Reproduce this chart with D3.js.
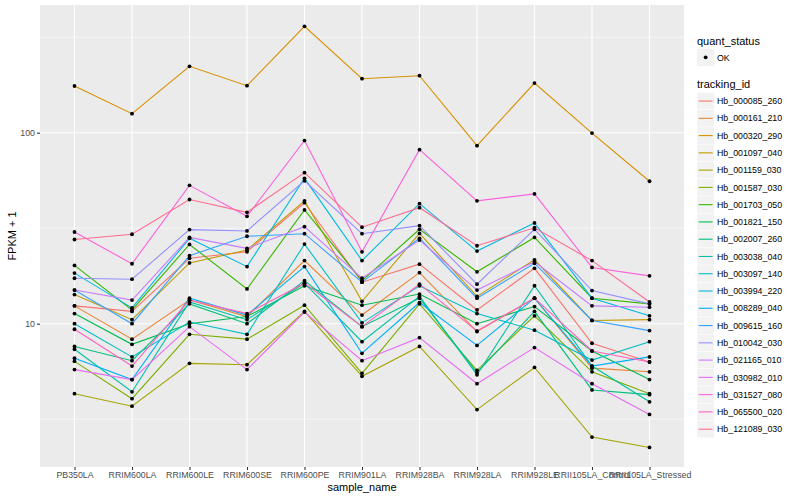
<!DOCTYPE html>
<html lang="en">
<head>
<meta charset="UTF-8">
<title>FPKM by sample</title>
<script src="https://d3js.org/d3.v7.min.js"></script>
<style>
  body { margin: 0; background: #fff; }
  text { font-family: "Liberation Sans", Arial, Helvetica, sans-serif; }
</style>
</head>
<body>
<div id="chart"></div>
<script>
// samples on the x axis
var samples = ["PB350LA", "RRIM600LA", "RRIM600LE", "RRIM600SE", "RRIM600PE", "RRIM901LA",
    "RRIM928BA", "RRIM928LA", "RRIM928LE", "RRII105LA_Control", "RRII105LA_Stressed"];

var trackingIds = ["Hb_000085_260", "Hb_000161_210", "Hb_000320_290", "Hb_001097_040", "Hb_001159_030",
    "Hb_001587_030", "Hb_001703_050", "Hb_001821_150", "Hb_002007_260", "Hb_003038_040",
    "Hb_003097_140", "Hb_003994_220", "Hb_008289_040", "Hb_009615_160", "Hb_010042_030",
    "Hb_021165_010", "Hb_030982_010", "Hb_031527_080", "Hb_065500_020", "Hb_121089_030"];

var colors = ["#F8766D", "#EA8331", "#D89000", "#C09B00", "#A3A500", "#7CAE00", "#39B600", "#00BB4E",
    "#00BF7D", "#00C1A3", "#00BFC4", "#00BAE0", "#00B0F6", "#35A2FF", "#9590FF", "#C77CFF",
    "#E76BF3", "#FA62DB", "#FF62BC", "#FF6C91"];

// FPKM + 1, one value per sample
var Hb_000085_260 = [12.4, 11.6, 22, 23.8, 43, 16.5, 20.5, 11.8, 19.5, 7.9, 6.3];
var Hb_000161_210 = [12.4, 8.3, 13.3, 10.9, 21.4, 11.1, 18.5, 9.1, 13.6, 5.85, 5.6];
var Hb_000320_290 = [175.6, 125.8, 222.7, 176.2, 360.6, 191.8, 198.8, 85.5, 182, 99.6, 55.7];
var Hb_001097_040 = [14.2, 10.5, 20.8, 24.3, 44, 13.1, 29.7, 13.9, 21.6, 10.4, 10.5];
var Hb_001159_030 = [4.3, 3.7, 6.2, 6.1, 11.6, 5.3, 7.6, 3.55, 5.9, 2.55, 2.25];
var Hb_001587_030 = [6.35, 4.05, 8.8, 8.3, 12.5, 5.5, 12.7, 5.7, 11, 5.6, 4.3];
var Hb_001703_050 = [20.2, 11.8, 26, 15.2, 39.4, 16.8, 31.2, 18.7, 28.3, 13.6, 12.7];
var Hb_001821_150 = [11.3, 7.8, 10, 10.9, 15.8, 12.5, 14.3, 10, 12.3, 7.2, 5.1];
var Hb_002007_260 = [7.6, 6.4, 12.7, 10, 16.8, 9.65, 13.6, 5.55, 11.6, 4.5, 4.25];
var Hb_003038_040 = [7.35, 4.4, 13, 10.5, 16.3, 8.05, 13.9, 5.4, 15.8, 6, 3.9];
var Hb_003097_140 = [10, 6.7, 10.2, 8.8, 26.1, 10.1, 15.8, 11.3, 9.25, 6.45, 8.05];
var Hb_003994_220 = [18.4, 12.1, 28, 19.9, 57.7, 21.4, 42.5, 24, 33.7, 13.6, 11];
var Hb_008289_040 = [6.6, 5.1, 13.6, 11.1, 19.9, 7, 12.9, 7.7, 13.6, 6, 6.7];
var Hb_009615_160 = [15, 10, 22.7, 28.7, 29.6, 16.5, 28, 13.6, 20.7, 10.4, 9.2];
var Hb_010042_030 = [17.3, 17.1, 31.1, 30.6, 56, 29.6, 32.6, 16.1, 31.2, 14.9, 12.7];
var Hb_021165_010 = [15, 13.3, 28.3, 24.8, 32.2, 17.3, 27.4, 15, 21.1, 12.4, 12.2];
var Hb_030982_010 = [5.75, 5.1, 9.65, 5.75, 11.5, 6.4, 8.45, 4.85, 7.5, 4.85, 3.35];
var Hb_031527_080 = [30.2, 20.6, 53, 36.5, 91, 23.8, 81.5, 44, 47.8, 19.7, 17.8];
var Hb_065500_020 = [9.35, 6, 13.3, 11.3, 16.3, 9.65, 16.1, 9.15, 13.6, 7.2, 6.3];
var Hb_121089_030 = [27.6, 29.4, 44.7, 38.3, 61.8, 32, 40.5, 25.6, 31.8, 21.4, 13];

var seriesValues = [Hb_000085_260, Hb_000161_210, Hb_000320_290, Hb_001097_040, Hb_001159_030,
    Hb_001587_030, Hb_001703_050, Hb_001821_150, Hb_002007_260, Hb_003038_040,
    Hb_003097_140, Hb_003994_220, Hb_008289_040, Hb_009615_160, Hb_010042_030,
    Hb_021165_010, Hb_030982_010, Hb_031527_080, Hb_065500_020, Hb_121089_030];

var yTicks = [10, 100];
var yMinor = [3.1623, 31.623, 316.23];

var series = trackingIds.map(function (id, i) {
    return {
        id: id, color: colors[i],
        values: seriesValues[i].map(function (v, j) { return {sample: samples[j], value: v}; })
    };
});

var width = 800, height = 500;
var panel = {left: 40, right: 684, top: 5, bottom: 467};

var svg = d3.select("#chart").append("svg")
    .attr("width", width)
    .attr("height", height);

var x = d3.scalePoint()
    .domain(samples)
    .range([panel.left, panel.right])
    .padding(0.6);

var y = d3.scaleLog()
    .domain([1.777, 466.3])
    .range([panel.bottom, panel.top]);

// panel background
svg.append("rect")
    .attr("x", panel.left).attr("y", panel.top)
    .attr("width", panel.right - panel.left)
    .attr("height", panel.bottom - panel.top)
    .attr("fill", "#EBEBEB");

// grid
svg.append("g").selectAll("line")
    .data(yMinor)
    .enter().append("line")
    .attr("x1", panel.left).attr("x2", panel.right)
    .attr("y1", function (d) { return y(d); })
    .attr("y2", function (d) { return y(d); })
    .attr("stroke", "#fff").attr("stroke-width", 0.55);

svg.append("g").selectAll("line")
    .data(yTicks)
    .enter().append("line")
    .attr("x1", panel.left).attr("x2", panel.right)
    .attr("y1", function (d) { return y(d); })
    .attr("y2", function (d) { return y(d); })
    .attr("stroke", "#fff").attr("stroke-width", 1.1);

svg.append("g").selectAll("line")
    .data(samples)
    .enter().append("line")
    .attr("y1", panel.top).attr("y2", panel.bottom)
    .attr("x1", function (d) { return x(d); })
    .attr("x2", function (d) { return x(d); })
    .attr("stroke", "#fff").attr("stroke-width", 1.1);

// lines
var line = d3.line()
    .x(function (d) { return x(d.sample); })
    .y(function (d) { return y(d.value); });

svg.append("g").selectAll("path")
    .data(series)
    .enter().append("path")
    .attr("d", function (d) { return line(d.values); })
    .attr("fill", "none")
    .attr("stroke", function (d) { return d.color; })
    .attr("stroke-width", 1.1);

// points
var pts = [];
series.forEach(function (s) { s.values.forEach(function (v) { pts.push(v); }); });
svg.append("g").selectAll("circle")
    .data(pts)
    .enter().append("circle")
    .attr("cx", function (d) { return x(d.sample); })
    .attr("cy", function (d) { return y(d.value); })
    .attr("r", 1.9)
    .attr("fill", "#000");

// axes
var xAxis = svg.append("g")
    .attr("transform", "translate(0," + panel.bottom + ")")
    .call(d3.axisBottom(x).tickSize(3).tickPadding(2));
var yAxis = svg.append("g")
    .attr("transform", "translate(" + panel.left + ",0)")
    .call(d3.axisLeft(y).tickValues(yTicks).tickFormat(d3.format("d")).tickSize(3).tickPadding(2));

[xAxis, yAxis].forEach(function (a) {
    a.select(".domain").remove();
    a.selectAll(".tick line").attr("stroke", "#333").attr("stroke-width", 1.1);
    a.selectAll(".tick text")
        .attr("fill", "#4D4D4D")
        .style("font-size", "8.8px")
        .style("font-family", "'Liberation Sans', Arial, sans-serif");
});

svg.append("text")
    .attr("x", (panel.left + panel.right) / 2)
    .attr("y", 491)
    .attr("text-anchor", "middle")
    .style("font-size", "11px")
    .text("sample_name");

svg.append("text")
    .attr("transform", "translate(16," + (panel.top + panel.bottom) / 2 + ") rotate(-90)")
    .attr("text-anchor", "middle")
    .style("font-size", "11px")
    .text("FPKM + 1");

// legends
var lg = svg.append("g").attr("transform", "translate(697,0)");

lg.append("text").attr("x", 0).attr("y", 44.5).style("font-size", "11px").text("quant_status");
lg.append("rect").attr("x", 0).attr("y", 48.7).attr("width", 17.3).attr("height", 17.3).attr("fill", "#F2F2F2");
lg.append("circle").attr("cx", 8.65).attr("cy", 57.3).attr("r", 1.9).attr("fill", "#000");
lg.append("text").attr("x", 20).attr("y", 60.5).style("font-size", "8.8px").text("OK");

lg.append("text").attr("x", 0).attr("y", 88).style("font-size", "11px").text("tracking_id");

var keys = lg.selectAll("g.key")
    .data(series)
    .enter().append("g")
    .attr("class", "key")
    .attr("transform", function (d, i) { return "translate(0," + (92.4 + i * 17.27) + ")"; });

keys.append("rect")
    .attr("width", 17.3).attr("height", 17.3)
    .attr("fill", "#F2F2F2")
    .attr("stroke", "#fff").attr("stroke-width", 0.5);
keys.append("line")
    .attr("x1", 1.7).attr("x2", 15.6)
    .attr("y1", 8.65).attr("y2", 8.65)
    .attr("stroke", function (d) { return d.color; })
    .attr("stroke-width", 1.1);
keys.append("text")
    .attr("x", 20).attr("y", 11.8)
    .style("font-size", "8.8px")
    .text(function (d) { return d.id; });
</script>
</body>
</html>
